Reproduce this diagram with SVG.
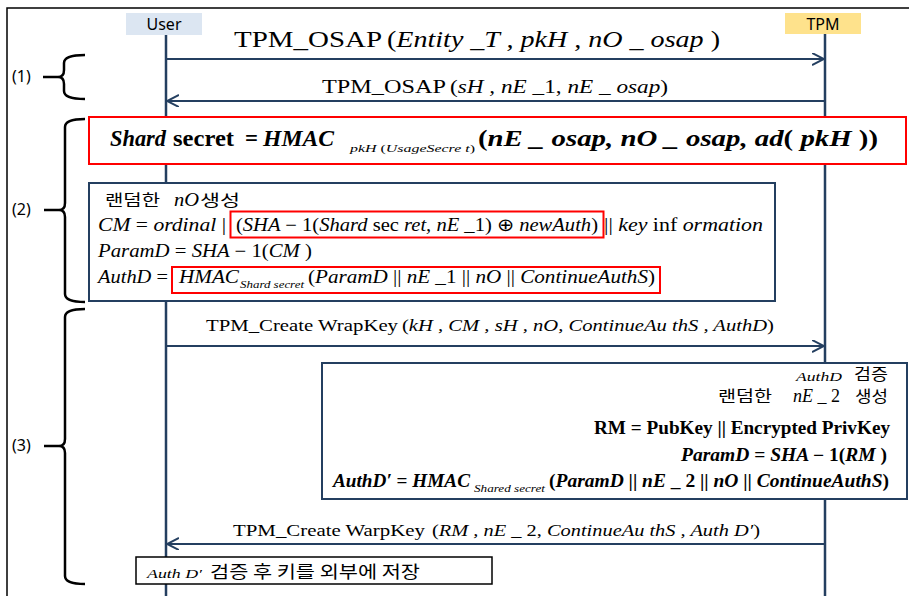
<svg xmlns="http://www.w3.org/2000/svg" width="909" height="596" viewBox="0 0 909 596">
<style>
.m{font-family:"Liberation Serif","Times New Roman",serif;fill:#000}
.i{font-style:italic}
.b{font-weight:bold}
.k{font-family:"Noto Sans CJK KR","Noto Sans",sans-serif;fill:#000}
.s{font-family:"Noto Sans","Liberation Sans",sans-serif;fill:#000}
.ln{stroke:#243f60;stroke-width:2;fill:none}
.life{stroke:#243f60;stroke-width:2.5;fill:none}
.brace{stroke:#000;stroke-width:2.5;fill:none}
.red{fill:#fff;stroke:#ff0000;stroke-width:2}
.redn{fill:none;stroke:#ff0000;stroke-width:2}
.nb{fill:#fff;stroke:#243f60;stroke-width:2}
</style>
<defs>
<marker id="ah" markerUnits="userSpaceOnUse" markerWidth="14" markerHeight="14" refX="12" refY="6" orient="auto">
<path d="M0,0 L12,6 L0,12" fill="none" stroke="#243f60" stroke-width="2"/>
</marker>
</defs>
<rect width="909" height="596" fill="#fff"/>
<path d="M7,596 L7,8 L909,8" fill="none" stroke="#000" stroke-width="1.5"/>

<g id="lifelines">
<line class="life" x1="166" y1="35" x2="166" y2="596"/>
<line class="life" x1="825" y1="34" x2="825" y2="596"/>
</g>

<g id="user">
<rect x="126" y="13" width="76" height="22" fill="#dce6f2"/>
<text class="s" x="164" y="30" font-size="16" text-anchor="middle">User</text>
</g>
<g id="tpm">
<rect x="785" y="13" width="76" height="21" fill="#fee28c"/>
<text class="s" x="823" y="30" font-size="16" text-anchor="middle">TPM</text>
</g>

<g id="connectors">
<line class="ln" x1="166" y1="59" x2="824" y2="59" marker-end="url(#ah)"/>
<line class="ln" x1="825" y1="101" x2="167" y2="101" marker-end="url(#ah)"/>
<line class="ln" x1="166" y1="346" x2="824" y2="346" marker-end="url(#ah)"/>
<line class="ln" x1="825" y1="544" x2="167" y2="544" marker-end="url(#ah)"/>
</g>

<g id="msg1">
<text class="m" x="234" y="47" font-size="23" textLength="148" lengthAdjust="spacingAndGlyphs">TPM_OSAP</text>
<text class="m i" x="387" y="47" font-size="23" textLength="333" lengthAdjust="spacingAndGlyphs"><tspan font-style="normal">(</tspan>Entity _T , pkH , nO _ osap <tspan font-style="normal">)</tspan></text>
</g>
<g id="msg2">
<text class="m" x="322" y="93" font-size="19" textLength="124" lengthAdjust="spacingAndGlyphs">TPM_OSAP</text>
<text class="m i" x="450" y="93" font-size="19" textLength="218" lengthAdjust="spacingAndGlyphs"><tspan font-style="normal">(</tspan>sH , nE <tspan font-style="normal">_1,</tspan> nE _ osap<tspan font-style="normal">)</tspan></text>
</g>

<g id="brace1">
<path class="brace" d="M85,55 Q64,55 64,63 L64,70 Q64,77 58,77 Q64,77 64,84 L64,91 Q64,99 85,99 M43,77 L60,77"/>
<text class="s" x="12" y="82" font-size="16">(1)</text>
</g>
<g id="brace2">
<path class="brace" d="M85,119 Q65,119 65,127 L65,203 Q65,210 59,210 Q65,210 65,217 L65,294 Q65,302 85,302 M44,210 L61,210"/>
<text class="s" x="12" y="215" font-size="16">(2)</text>
</g>
<g id="brace3">
<path class="brace" d="M85,309 Q65,309 65,317 L65,439 Q65,446 59,446 Q65,446 65,453 L65,576 Q65,584 85,584 M44,446 L61,446"/>
<text class="s" x="12" y="451" font-size="16">(3)</text>
</g>

<g id="shared-secret">
<rect class="red" x="89" y="117" width="817" height="47"/>
<text class="m b i" x="110" y="146" font-size="24" textLength="56" lengthAdjust="spacingAndGlyphs">Shard</text>
<text class="m b" x="173" y="146" font-size="24" textLength="61" lengthAdjust="spacingAndGlyphs">secret</text>
<text class="m b" x="245" y="146" font-size="24" textLength="13" lengthAdjust="spacingAndGlyphs">=</text>
<text class="m b i" x="263" y="146" font-size="24" textLength="71" lengthAdjust="spacingAndGlyphs">HMAC</text>
<text class="m i" x="350" y="152" font-size="11" textLength="125" lengthAdjust="spacingAndGlyphs">pkH <tspan font-style="normal">(</tspan>UsageSecre t<tspan font-style="normal">)</tspan></text>
<text class="m b i" x="478" y="146" font-size="24" textLength="400" lengthAdjust="spacingAndGlyphs"><tspan font-style="normal">(</tspan>nE _ osap, nO _ osap, ad<tspan font-style="normal">(</tspan> pkH <tspan font-style="normal">))</tspan></text>
</g>

<g id="user-compute">
<rect class="nb" x="89" y="183" width="686" height="118"/>
<text class="k" x="105" y="206" font-size="16" textLength="55" lengthAdjust="spacingAndGlyphs">랜덤한</text>
<text class="m i" x="174" y="206" font-size="18" textLength="25" lengthAdjust="spacingAndGlyphs">nO</text>
<text class="k" x="200" y="206" font-size="16" textLength="40" lengthAdjust="spacingAndGlyphs">생성</text>
<text class="m i" x="98" y="231" font-size="18" textLength="128" lengthAdjust="spacingAndGlyphs">CM <tspan font-style="normal">=</tspan> ordinal <tspan font-style="normal">|</tspan></text>
<rect class="redn" x="230.5" y="211.5" width="373" height="26"/>
<text class="m i" x="236" y="231" font-size="18" textLength="362" lengthAdjust="spacingAndGlyphs"><tspan font-style="normal">(</tspan>SHA <tspan font-style="normal">− 1(</tspan>Shard <tspan font-style="normal">sec</tspan> ret, nE <tspan font-style="normal">_1) ⊕</tspan> newAuth<tspan font-style="normal">)</tspan></text>
<text class="m i" x="604" y="231" font-size="18" textLength="159" lengthAdjust="spacingAndGlyphs"><tspan font-style="normal">||</tspan> key <tspan font-style="normal"> inf</tspan> ormation</text>
<text class="m i" x="98" y="257" font-size="18" textLength="214" lengthAdjust="spacingAndGlyphs">ParamD <tspan font-style="normal">=</tspan> SHA <tspan font-style="normal">− 1(</tspan>CM <tspan font-style="normal">)</tspan></text>
<text class="m i" x="98" y="283" font-size="18" textLength="70" lengthAdjust="spacingAndGlyphs">AuthD <tspan font-style="normal">=</tspan></text>
<rect class="redn" x="172" y="267" width="488" height="26"/>
<text class="m i" x="179" y="283" font-size="18" textLength="60" lengthAdjust="spacingAndGlyphs">HMAC</text>
<text class="m i" x="240" y="288" font-size="10" textLength="64" lengthAdjust="spacingAndGlyphs">Shard secret</text>
<text class="m i" x="308" y="283" font-size="18" textLength="347" lengthAdjust="spacingAndGlyphs"><tspan font-style="normal">(</tspan>ParamD <tspan font-style="normal">||</tspan> nE <tspan font-style="normal">_1 ||</tspan> nO <tspan font-style="normal">||</tspan> ContinueAuthS<tspan font-style="normal">)</tspan></text>
</g>

<g id="msg3">
<text class="m" x="206" y="331" font-size="17" textLength="192" lengthAdjust="spacingAndGlyphs">TPM_Create  WrapKey</text>
<text class="m i" x="402" y="331" font-size="17" textLength="372" lengthAdjust="spacingAndGlyphs"><tspan font-style="normal">(</tspan>kH , CM , sH , nO, ContinueAu thS , AuthD<tspan font-style="normal">)</tspan></text>
</g>

<g id="tpm-compute">
<rect class="nb" x="322" y="363" width="585" height="136"/>
<text class="m i" x="796" y="381" font-size="13" textLength="46" lengthAdjust="spacingAndGlyphs">AuthD</text>
<text class="k" x="854" y="380" font-size="15.5" textLength="34" lengthAdjust="spacingAndGlyphs">검증</text>
<text class="k" x="718" y="402" font-size="15.5" textLength="54" lengthAdjust="spacingAndGlyphs">랜덤한</text>
<text class="m i" x="793" y="402" font-size="18" textLength="47" lengthAdjust="spacingAndGlyphs">nE <tspan font-style="normal">_ 2</tspan></text>
<text class="k" x="855" y="402" font-size="15.5" textLength="33" lengthAdjust="spacingAndGlyphs">생성</text>
<text class="m b" x="594" y="434" font-size="18" textLength="296" lengthAdjust="spacingAndGlyphs">RM = PubKey || Encrypted PrivKey</text>
<text class="m b i" x="681" y="461" font-size="18" textLength="206" lengthAdjust="spacingAndGlyphs">ParamD <tspan font-style="normal">=</tspan> SHA <tspan font-style="normal">− 1(</tspan>RM <tspan font-style="normal">)</tspan></text>
<text class="m b i" x="333" y="487" font-size="18" textLength="137" lengthAdjust="spacingAndGlyphs">AuthD′ <tspan font-style="normal">=</tspan> HMAC</text>
<text class="m i" x="474" y="492" font-size="10" textLength="71" lengthAdjust="spacingAndGlyphs">Shared secret</text>
<text class="m b i" x="549" y="487" font-size="18" textLength="340" lengthAdjust="spacingAndGlyphs"><tspan font-style="normal">(</tspan>ParamD <tspan font-style="normal">||</tspan> nE <tspan font-style="normal">_ 2 ||</tspan> nO <tspan font-style="normal">||</tspan> ContinueAuthS<tspan font-style="normal">)</tspan></text>
</g>

<g id="msg4">
<text class="m" x="233" y="536" font-size="17" textLength="192" lengthAdjust="spacingAndGlyphs">TPM_Create  WarpKey</text>
<text class="m i" x="432" y="536" font-size="17" textLength="328" lengthAdjust="spacingAndGlyphs"><tspan font-style="normal">(</tspan>RM , nE <tspan font-style="normal">_ 2,</tspan> ContinueAu thS , Auth D′<tspan font-style="normal">)</tspan></text>
</g>

<g id="store">
<rect x="136" y="557" width="356" height="27" fill="#fff" stroke="#000" stroke-width="1.5"/>
<text class="m i" x="147" y="578" font-size="13" textLength="55" lengthAdjust="spacingAndGlyphs">Auth  D′</text>
<text class="k" x="210" y="578" font-size="17" textLength="210" lengthAdjust="spacingAndGlyphs">검증 후 키를 외부에 저장</text>
</g>
</svg>
